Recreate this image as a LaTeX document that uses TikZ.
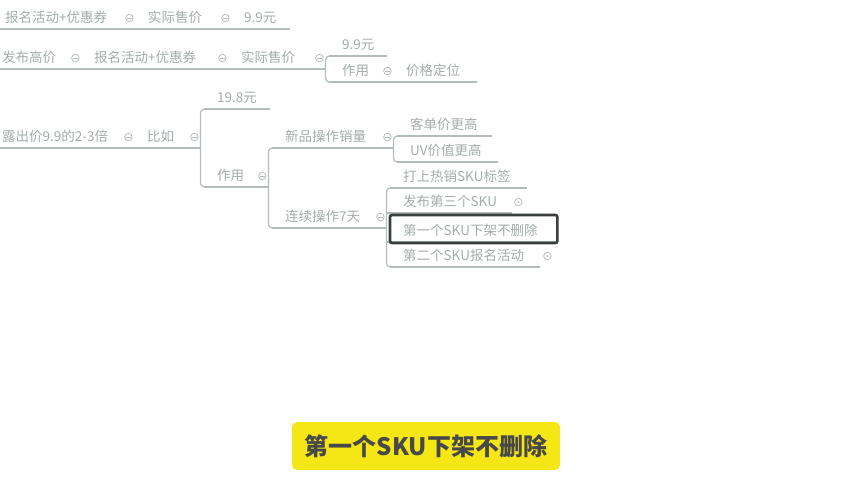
\documentclass[tikz,border=0pt]{standalone}
\usepackage{fontspec}
\setmainfont{Noto Sans CJK SC}
\definecolor{mmtext}{RGB}{164,172,170}
\definecolor{mmline}{RGB}{180,188,186}
\definecolor{selgray}{RGB}{58,62,62}
\definecolor{capyellow}{RGB}{245,230,22}
\definecolor{capgray}{RGB}{72,72,72}
\newcommand\mmfont{\fontsize{13.5}{15}\selectfont}
\tikzset{
  topic/.style={anchor=south west, text width=#1, align=left, inner xsep=13pt,
    inner ysep=3pt, text depth=3.5pt, text=mmtext, font=\mmfont},
  uline/.style={draw=mmline, line width=1.2pt},
  link/.style={draw=mmline, line width=1.2pt, rounded corners=4pt},
  fold/.style={circle, draw=mmline, line width=.8pt, inner sep=0pt, minimum size=7.5pt,
    path picture={\draw[mmline, line width=.8pt] ([xshift=1.6pt]path picture bounding box.west)
      -- ([xshift=-1.6pt]path picture bounding box.east);}},
  foldin/.style={circle, draw=mmline, line width=.8pt, inner sep=0pt, minimum size=7.5pt,
    path picture={\fill[mmline] (path picture bounding box.center) circle (1.1pt);}},
  selbox/.style={draw=selgray, line width=2.6pt, rounded corners=2pt},
  caption/.style={fill=capyellow, rounded corners=5pt, text=capgray, minimum width=268pt,
    minimum height=48pt, inner sep=0pt, font=\bfseries\fontsize{24}{24}\selectfont}
}
\begin{document}
\begin{tikzpicture}[x=1pt,y=-1pt]
\useasboundingbox (0,0) rectangle (852,480);
\clip (0,0) rectangle (852,480);
\node (r1a) at (-8,29)  [topic=117pt] {报名活动+优惠券};
\node (r1b) at (135,29) [topic=70pt]  {实际售价};
\node (r1c) at (231,29) [topic=33pt]  {9.9元};
\node (r2a) at (-11,69) [topic=66pt]  {发布高价};
\node (r2b) at (81,69)  [topic=121pt] {报名活动+优惠券};
\node (r2c) at (228,69) [topic=71pt]  {实际售价};
\node (r2d) at (329,56) [topic=32pt]  {9.9元};
\node (r2e) at (329,82) [topic=38pt]  {作用};
\node (r2f) at (393,82) [topic=58pt]  {价格定位};
\node (r3a) at (-11,148) [topic=119pt] {露出价9.9的2-3倍};
\node (r3b) at (134,148) [topic=40pt]  {比如};
\node (r3c) at (204,109) [topic=40pt]  {19.8元};
\node (r3d) at (204,187) [topic=38pt]  {作用};
\node (r3e) at (272,148) [topic=95pt]  {新品操作销量};
\node (r3f) at (272,228) [topic=88pt]  {连续操作7天};
\node (r3g) at (397,136) [topic=69pt]  {客单价更高};
\node (r3h) at (397,162) [topic=75pt]  {UV价值更高};
\node (r3i) at (390,188) [topic=111pt] {打上热销SKU标签};
\node (r3j) at (390,213) [topic=96pt]  {发布第三个SKU};
\node (r3k) at (390,242) [topic=139pt] {第一个SKU下架不删除};
\node (r3l) at (390,267) [topic=124pt] {第二个SKU报名活动};
\foreach \n in {r1a,r1b,r1c,r2a,r2b,r2c,r2d,r2e,r2f,r3a,r3b,r3c,r3d,r3e,r3f,r3g,r3h,r3i,r3j,r3k,r3l}
  \draw[uline] (\n.south west) -- (\n.south east);
\foreach \n in {r1a,r1b,r2a,r2b,r2c,r2e,r3a,r3b,r3d,r3e,r3f}
  \node (f\n) at ([shift={(-6,-11)}]\n.south east) [fold] {};
\node (fr3j) at ([shift={(6,-11)}]r3j.south east) [foldin] {};
\node (fr3l) at ([shift={(7,-11)}]r3l.south east) [foldin] {};
\draw[link] (r2d.south west) -| (r2c.south east) |- (r2e.south west);
\draw[link] (r3c.south west) -| (r3b.south east) |- (r3d.south west);
\draw[link] (r3e.south west) -| (r3d.south east) |- (r3f.south west);
\draw[link] (r3g.south west) -| (r3e.south east) |- (r3h.south west);
\draw[link] (r3i.south west) -| (r3f.south east) |- (r3l.south west);
\draw[uline] (r3f.south east |- r3j.south west) -- (r3j.south west);
\draw[uline] (r3f.south east |- r3k.south west) -- (r3k.south west);
\draw[selbox] ([shift={(0,1)}]r3k.south west) rectangle ([shift={(2,-27)}]r3k.south east);
\node (cap) at (426,446) [caption] {第一个SKU下架不删除};
\end{tikzpicture}
\end{document}
